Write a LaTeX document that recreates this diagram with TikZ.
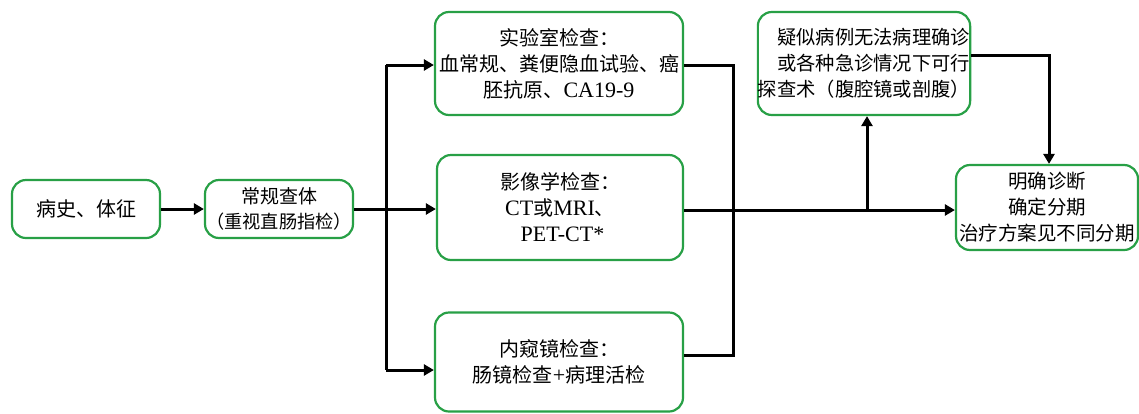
\documentclass[tikz,border=0pt]{standalone}
\usepackage{fontspec}
\setmainfont{Liberation Serif}
\newfontfamily\cjk{Noto Sans CJK SC}
\usetikzlibrary{arrows.meta}
\definecolor{boxgreen}{RGB}{40,160,70}
\newcommand{\lat}[1]{{\fontsize{22}{26}\selectfont #1}}
\tikzset{
  box/.style={draw=boxgreen, line width=2.2pt, rounded corners=14pt, fill=white,
    align=center, inner sep=0pt, font=\fontsize{20}{26}\selectfont},
  conn/.style={line width=3pt, -{Triangle[length=10pt,width=11pt]}},
  plain/.style={line width=3pt},
}
\begin{document}
\begin{tikzpicture}[x=1pt,y=-1pt]
\useasboundingbox (0,0) rectangle (1139,413);
% boxes
\node[box, minimum width=148pt, minimum height=58pt] (hist) at (86,209) {\cjk 病史、体征};
\node[box, minimum width=148pt, minimum height=58pt, font=\fontsize{19}{25}\selectfont] (exam) at (279,209) {\cjk 常规查体\\\cjk\fontsize{18.2}{25}\selectfont （重视直肠指检）};
\node[box, minimum width=248pt, minimum height=103pt] (lab) at (559,63.5) {{\cjk 实验室检查：}\\{\cjk 血常规、粪便隐血试验、癌}\\{\cjk 胚抗原、}\lat{CA19-9}};
\node[box, minimum width=246pt, minimum height=105pt] (img) at (560,207.5) {{\cjk 影像学检查：}\\\lat{CT}{\cjk 或}\lat{MRI}{\cjk 、}\\\ \lat{PET-CT*}};
\node[box, minimum width=248pt, minimum height=99pt] (endo) at (559,362) {{\cjk 内窥镜检查：}\\{\cjk 肠镜检查}\lat{+}{\cjk 病理活检}};
\node[box, minimum width=212pt, minimum height=103pt, align=right, font=\fontsize{19.3}{26}\selectfont] (surg) at (864,63.5) {{\cjk 疑似病例无法病理确诊}\\{\cjk 或各种急诊情况下可行}\\{\cjk 探查术（腹腔镜或剖腹）}};
\node[box, minimum width=182pt, minimum height=85pt, font=\fontsize{19.5}{26}\selectfont] (diag) at (1047,207.5) {{\cjk 明确诊断}\\{\cjk 确定分期}\\{\cjk 治疗方案见不同分期}};
% junction coordinates
\coordinate (vt) at (386,65);
\coordinate (vb) at (386,370);
\coordinate (rt) at (733,65);
\coordinate (rb) at (733,355);
\coordinate (up) at (867,210);
\coordinate (sr) at (1049,55);
% connectors
\draw[conn] (hist.east) -- (exam.west);
\draw[conn] (exam.east) -- (img.west |- exam.east);
\draw[plain] (vt) -- (vb);
\draw[conn] (vt) -- (lab.west |- vt);
\draw[conn] (vb) -- (endo.west |- vb);
\draw[plain] (lab.east |- rt) -- (rt) -- (733,210);
\draw[plain] (endo.east |- rb) -- (rb) -- (733,210);
\draw[conn] (img.east |- up) -- (diag.west |- up);
\draw[conn] (up) -- (surg.south -| up);
\draw[conn] (surg.east |- sr) -- (sr) -- (diag.north -| sr);
\end{tikzpicture}
\end{document}
